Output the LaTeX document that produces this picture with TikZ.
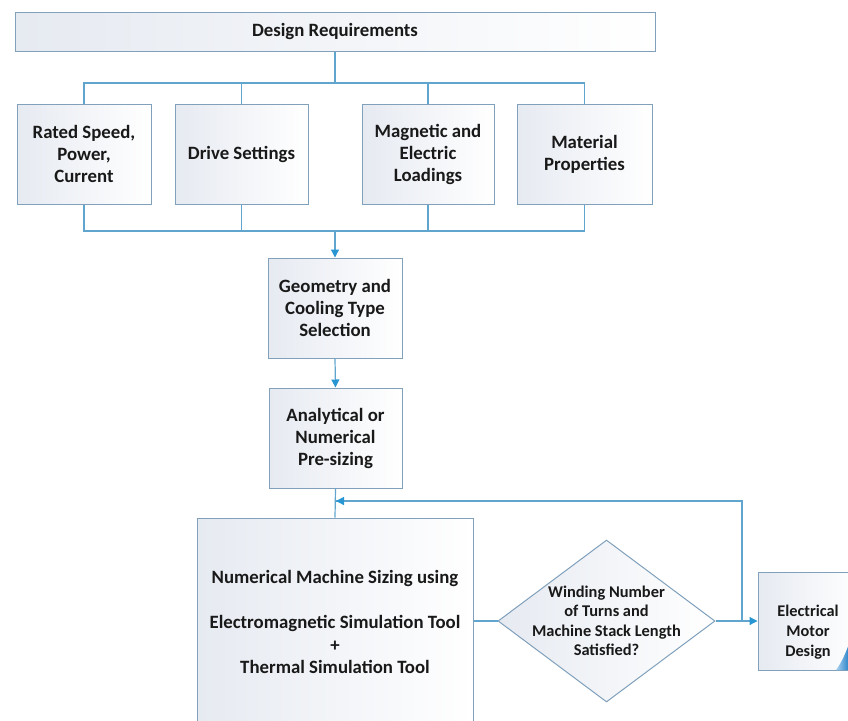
\documentclass[tikz,border=0pt]{standalone}
\usepackage{fontspec}
\setmainfont{Carlito}
\usetikzlibrary{shapes.geometric,arrows.meta}
\definecolor{conn}{RGB}{95,165,205}
\definecolor{tipc}{RGB}{40,150,210}
\definecolor{bord}{RGB}{128,160,188}
\definecolor{fillL}{RGB}{230,234,241}
\definecolor{txt}{RGB}{25,25,25}
\definecolor{curlA}{RGB}{170,210,240}
\definecolor{curlB}{RGB}{40,130,200}
\tikzset{
  box/.style={draw=bord, line width=1pt, left color=fillL, right color=white,
    inner sep=2pt, align=center, text=txt, font=\fontsize{18.8}{22}\selectfont\bfseries},
  conline/.style={draw=conn, line width=1.2pt},
  arr/.style={conline, -{Triangle[length=8pt,width=8pt,fill=tipc,color=tipc]}},
  txtnode/.style={align=center, text=txt, inner sep=0pt},
}
\begin{document}
\begin{tikzpicture}[x=1pt,y=-1pt]
\useasboundingbox (0,0) rectangle (848,720);
\clip (0,0) rectangle (848,720);
% top
\node[box, minimum width=640pt, minimum height=39pt] (dr) at (335,31.5) {Design Requirements};
\node[box, minimum width=134pt, minimum height=100pt] (b1) at (84,154) {Rated Speed,\\Power,\\Current};
\node[box, minimum width=133pt, minimum height=100pt] (b2) at (241.5,154) {Drive Settings};
\node[box, minimum width=132pt, minimum height=100pt] (b3) at (428,154) {Magnetic and\\Electric\\Loadings};
\node[box, minimum width=135pt, minimum height=100pt] (b4) at (584.5,154) {Material\\Properties};
\node[box, minimum width=134pt, minimum height=100pt] (geo) at (335,308) {Geometry and\\Cooling Type\\Selection};
\node[box, minimum width=133pt, minimum height=100pt] (ana) at (335.5,438) {Analytical or\\Numerical\\Pre-sizing};
\node[box, minimum width=276pt, minimum height=222pt] (num) at (335,629) {};
\node[txtnode, font=\fontsize{18.8}{22.5}\selectfont\bfseries] (numt) at (335,622) {Numerical Machine Sizing using\\[22.5pt]Electromagnetic Simulation Tool\\+\\Thermal Simulation Tool};
\node[box, shape=diamond, aspect=1.34, minimum width=217pt, minimum height=162pt, inner sep=0pt] (dia) at (606.5,621) {};
\node[txtnode, font=\fontsize{16.4}{19.5}\selectfont\bfseries] (diat) at (606.5,621) {Winding Number\\of Turns and\\Machine Stack Length\\Satisfied?};
\node[box, minimum width=100pt, minimum height=98pt] (ele) at (808,621) {};
\node[txtnode, font=\fontsize{16.3}{20}\selectfont\bfseries] (elet) at (808,632) {Electrical\\Motor\\Design};
% curl
\shade[left color=curlA, right color=curlB] (836,670) .. controls (842,662) and (846,652) .. (849,644) -- (849,670) -- cycle;
% coordinates
\coordinate (j1) at (335,83);
\coordinate (j2) at (335,231);
\coordinate (fb) at (742,621);
\coordinate (fbt) at (742,501);
\coordinate (fbl) at (335,501);
% connectors
\draw[conline] (dr.south) -- (j1);
\draw[conline] (b1.north) |- (j1) -| (b4.north);
\draw[conline] (b2.north) -- (b2.north |- j1);
\draw[conline] (b3.north) -- (b3.north |- j1);
\draw[conline] (b1.south) |- (j2) -| (b4.south);
\draw[conline] (b2.south) -- (b2.south |- j2);
\draw[conline] (b3.south) -- (b3.south |- j2);
\draw[arr] (j2) -- (geo.north);
\draw[arr] (geo.south) -- (ana.north);
\draw[conline] (ana.south) -- (num.north);
\draw[conline] (num.east |- dia.west) -- (dia.west);
\draw[arr] (dia.east) -- (ele.west);
\draw[conline] (fb) -- (fbt) -- (fbl);
\draw[arr] (fbt) -- ([xshift=1pt]fbl);
\end{tikzpicture}
\end{document}
